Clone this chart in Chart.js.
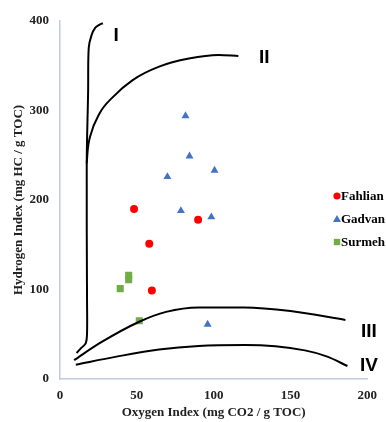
<!DOCTYPE html>
<html>
<head>
<meta charset="utf-8">
<script src="https://cdn.jsdelivr.net/npm/chart.js@4/dist/chart.umd.min.js"></script>
<style>
  html, body { margin: 0; padding: 0; background: #fff; }
  #wrap { width: 386px; height: 422px; }
</style>
</head>
<body>
<div id="wrap"><canvas id="myChart" width="386" height="422"></canvas></div>
<script>
// sample points (OI, HI)
const fahlianOI = [48.2, 89.9, 58.1, 59.8];
const fahlianHI = [190, 178, 151, 99];
const gadvanOI = [81.7, 84.3, 100.6, 69.9, 78.7, 98.5, 96.1];
const gadvanHI = [294, 249, 233, 226, 188, 181, 61];
const surmehOI = [39.2, 44.7, 44.7, 51.6];
const surmehHI = [101, 116, 111, 65];

// kerogen type boundary curves
const typeIOI = [10.8, 14, 16.8, 17.6, 17.6, 17.4, 18.3, 18.7, 20.5, 23, 25.8, 27.9];
const typeIHI = [29, 35, 40, 51, 88, 241, 321, 370, 384, 392.5, 396, 397.5];
const typeIIOI = [17.4, 18.1, 19.6, 25.8, 34.4, 47.3, 64.5, 83.9, 103.2, 116.1];
const typeIIHI = [241, 257, 271, 297, 315, 334, 349, 358, 362, 361];
const typeIIIOI = [9.2, 25.8, 51.6, 69, 90.3, 120, 150, 185.8];
const typeIIIHI = [21, 40, 64, 75, 80, 80, 76, 66];
const typeIVOI = [10.3, 36.8, 64.5, 90.3, 120.6, 159.4, 174, 187.1];
const typeIVHI = [16, 25, 33, 37, 38, 32, 25, 14.5];

const curveNames = ['I', 'II', 'III', 'IV'];
const curveNameOI = [36.6, 132.9, 201.1, 201.1];
const curveNameHI = [384, 359.4, 52.8, 14.9];

const seriesNames = ['Fahlian', 'Gadvan', 'Surmeh'];
const xTicks = [0, 50, 100, 150, 200];
const yTicks = [0, 100, 200, 300, 400];

const toPoints = (xs, ys) => xs.map((x, i) => ({ x: x, y: ys[i] }));

const curve = (xs, ys, mode) => ({
  type: 'scatter',
  data: toPoints(xs, ys),
  showLine: true,
  borderColor: '#000',
  borderWidth: 2,
  pointRadius: 0,
  tension: 0.35,
  cubicInterpolationMode: mode || 'default',
  fill: false,
  isCurve: true
});

const serifBold = { family: "'Liberation Serif', 'Times New Roman', serif", size: 13, weight: 'bold' };

// curve names I..IV
const curveLabels = {
  id: 'curveLabels',
  afterDatasetsDraw(chart) {
    const { ctx, scales: { x, y } } = chart;
    ctx.save();
    ctx.fillStyle = '#000';
    ctx.font = "bold 19px 'Liberation Sans', Arial, sans-serif";
    ctx.textAlign = 'center';
    ctx.textBaseline = 'middle';
    curveNames.forEach((name, i) => {
      ctx.fillText(name, x.getPixelForValue(curveNameOI[i]), y.getPixelForValue(curveNameHI[i]));
    });
    ctx.restore();
  }
};

// legend sits inside the plot on the right
const sideLegend = {
  id: 'sideLegend',
  afterDraw(chart) {
    const { ctx } = chart;
    const sets = chart.data.datasets.filter(d => !d.isCurve);
    ctx.save();
    ctx.font = "bold 13px 'Liberation Serif', 'Times New Roman', serif";
    ctx.textBaseline = 'middle';
    ctx.textAlign = 'left';
    sets.forEach((d, i) => {
      const cx = 337;
      const cy = 196 + i * 23;
      ctx.fillStyle = d.backgroundColor;
      ctx.beginPath();
      if (d.pointStyle === 'circle') {
        ctx.arc(cx, cy, 3.6, 0, Math.PI * 2);
      } else if (d.pointStyle === 'triangle') {
        ctx.moveTo(cx, cy - 4);
        ctx.lineTo(cx + 4, cy + 3);
        ctx.lineTo(cx - 4, cy + 3);
        ctx.closePath();
      } else {
        ctx.rect(cx - 3.2, cy - 3.2, 6.4, 6.4);
      }
      ctx.fill();
      ctx.fillStyle = '#000';
      ctx.fillText(d.label, cx + 4, cy + 1);
    });
    ctx.restore();
  }
};

const ctx = document.getElementById('myChart').getContext('2d');
const chart = new Chart(ctx, {
  type: 'scatter',
  data: {
    datasets: [
      curve(typeIOI, typeIHI),
      curve(typeIIOI, typeIIHI, 'monotone'),
      curve(typeIIIOI, typeIIIHI, 'monotone'),
      curve(typeIVOI, typeIVHI, 'monotone'),
      {
        label: seriesNames[0],
        data: toPoints(fahlianOI, fahlianHI),
        pointStyle: 'circle',
        pointRadius: 4,
        backgroundColor: '#ff0000',
        borderWidth: 0
      },
      {
        label: seriesNames[1],
        data: toPoints(gadvanOI, gadvanHI),
        pointStyle: 'triangle',
        pointRadius: 4.6,
        backgroundColor: '#4472c4',
        borderWidth: 0
      },
      {
        label: seriesNames[2],
        data: toPoints(surmehOI, surmehHI),
        pointStyle: 'rect',
        pointRadius: 5,
        backgroundColor: '#70ad47',
        borderWidth: 0
      }
    ]
  },
  options: {
    responsive: false,
    animation: false,
    layout: { padding: { top: 21, right: 16, left: 0, bottom: 0 } },
    plugins: {
      legend: { display: false },
      tooltip: { enabled: false }
    },
    scales: {
      x: {
        type: 'linear',
        min: 0,
        max: 200,
        afterBuildTicks: s => { s.ticks = xTicks.map(v => ({ value: v })); },
        afterFit: s => { s.height = 43; },
        grid: { display: false, drawTicks: false },
        border: { display: true, color: '#c3cbd8', width: 1.5 },
        ticks: { color: '#222', font: serifBold, padding: 9, maxRotation: 0 },
        title: { display: true, text: 'Oxygen Index (mg CO2 / g TOC)', color: '#222', font: serifBold, padding: { top: 0, bottom: 2 } }
      },
      y: {
        type: 'linear',
        min: 0,
        max: 400,
        afterBuildTicks: s => { s.ticks = yTicks.map(v => ({ value: v })); },
        afterFit: s => { s.width = 60; },
        grid: { display: false, drawTicks: false },
        border: { display: true, color: '#c3cbd8', width: 1.5 },
        ticks: { color: '#222', font: serifBold, padding: 11 },
        title: { display: true, text: 'Hydrogen Index (mg HC / g TOC)', color: '#222', font: serifBold, padding: { top: 11, bottom: 0 } }
      }
    }
  },
  plugins: [curveLabels, sideLegend]
});
</script>
</body>
</html>
